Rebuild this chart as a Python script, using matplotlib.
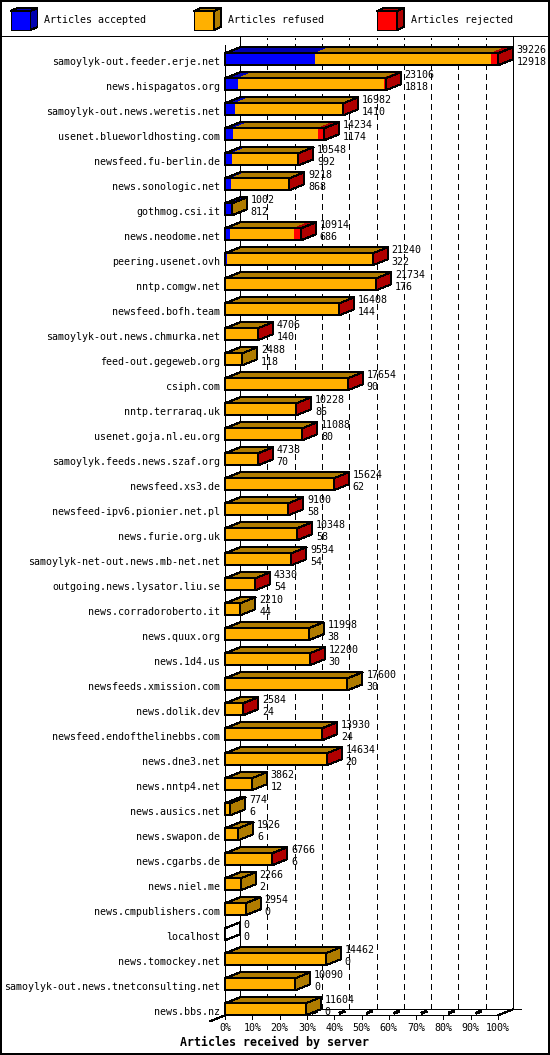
import numpy as np
import matplotlib.pyplot as plt
from matplotlib.patches import Polygon, Rectangle
import matplotlib.transforms as mtransforms

plt.rcParams['lines.scale_dashes'] = False
plt.rcParams['lines.antialiased'] = False
plt.rcParams['patch.antialiased'] = False

# данные: сервер, всего предложено, принято, отклонено (rejected)
servers = [
    "samoylyk-out.feeder.erje.net", "news.hispagatos.org",
    "samoylyk-out.news.weretis.net", "usenet.blueworldhosting.com",
    "newsfeed.fu-berlin.de", "news.sonologic.net", "gothmog.csi.it",
    "news.neodome.net", "peering.usenet.ovh", "nntp.comgw.net",
    "newsfeed.bofh.team", "samoylyk-out.news.chmurka.net",
    "feed-out.gegeweb.org", "csiph.com", "nntp.terraraq.uk",
    "usenet.goja.nl.eu.org", "samoylyk.feeds.news.szaf.org",
    "newsfeed.xs3.de", "newsfeed-ipv6.pionier.net.pl", "news.furie.org.uk",
    "samoylyk-net-out.news.mb-net.net", "outgoing.news.lysator.liu.se",
    "news.corradoroberto.it", "news.quux.org", "news.1d4.us",
    "newsfeeds.xmission.com", "news.dolik.dev",
    "newsfeed.endofthelinebbs.com", "news.dne3.net", "news.nntp4.net",
    "news.ausics.net", "news.swapon.de", "news.cgarbs.de", "news.niel.me",
    "news.cmpublishers.com", "localhost", "news.tomockey.net",
    "samoylyk-out.news.tnetconsulting.net", "news.bbs.nz",
]
offered = np.array([
    39226, 23106, 16982, 14234, 10548, 9218, 1002, 10914, 21240, 21734,
    16408, 4706, 2488, 17654, 10228, 11088, 4738, 15624, 9100, 10348,
    9534, 4330, 2210, 11998, 12200, 17600, 2584, 13930, 14634, 3862,
    774, 1926, 6766, 2266, 2954, 0, 14462, 10090, 11604,
])
accepted = np.array([
    12918, 1818, 1410, 1174, 992, 868, 812, 686, 322, 176,
    144, 140, 118, 90, 86, 80, 70, 62, 58, 58,
    54, 54, 44, 38, 30, 30, 24, 24, 20, 12,
    6, 6, 6, 2, 0, 0, 0, 0, 0,
])
rejected = np.array([
    1050, 320, 40, 880, 30, 30, 0, 1040, 40, 40,
    40, 40, 0, 40, 40, 40, 30, 40, 30, 30,
    30, 30, 0, 0, 30, 0, 30, 30, 30, 0,
    0, 0, 30, 0, 0, 0, 0, 0, 0,
])
refused = offered - accepted - rejected

series_names = ["Articles accepted", "Articles refused", "Articles rejected"]
face_colors = ["#0000ff", "#ffb000", "#ff0000"]
shade_colors = ["#0000b0", "#b07c00", "#b00000"]
pct_ticks = np.arange(0, 101, 10)

W, H = 550, 1055
fig = plt.figure(figsize=(W / 100, H / 100), dpi=100)
ax = fig.add_axes([0, 0, 1, 1])
ax.axis("off")

# положение области графика в пикселях
X0, X100 = 225, 498
Y_FIRST, ROW_H = 59.3, 25.0
ax.set_xlim(-X0 / (X100 - X0) * 100, (W - X0) / (X100 - X0) * 100)
ax.set_ylim((H - Y_FIRST) / ROW_H, -Y_FIRST / ROW_H)

# "глубина" псевдо-3D
DX = 15 / (X100 - X0) * 100
DY = -6 / ROW_H
BAR_H = 12 / ROW_H

# пиксельные координаты (начало сверху слева) для рамки и легенды
pix = mtransforms.Affine2D().scale(1 / W, -1 / H).translate(0, 1) + fig.transFigure

mono = "DejaVu Sans Mono"
fs = 7.2
LW = 0.72  # 1 px

n = len(servers)
floor_front = n - 1 + BAR_H / 2
floor_back = floor_front + DY
y_top = (38 - Y_FIRST) / ROW_H

# сетка и стенки
for p in pct_ticks[1:-1]:
    ax.plot([p + DX, p + DX], [floor_back, y_top], color="black", lw=LW,
            linestyle=(0, (4.3, 2.9)), zorder=1)
ax.plot([DX, DX], [floor_back, (36 - Y_FIRST) / ROW_H], color="black", lw=LW, zorder=1)
ax.plot([100 + DX, 100 + DX], [floor_back, (36 - Y_FIRST) / ROW_H], color="black", lw=LW, zorder=1)
ax.plot([0, 0], [floor_front, (45 - Y_FIRST) / ROW_H], color="black", lw=LW, zorder=1)

# пол
ax.plot([0, 100], [floor_front, floor_front], color="black", lw=LW, zorder=1)
ax.plot([DX, 100 + DX + 3], [floor_back, floor_back], color="black", lw=LW, zorder=1)
ax.plot([100, 100 + DX], [floor_front, floor_back], color="black", lw=LW, zorder=1)
ax.plot([0, -DX], [floor_front, floor_front - DY], color="black", lw=LW, zorder=1)
for p in pct_ticks:
    ax.plot([p, p], [floor_front, floor_front + 4 / ROW_H], color="black", lw=LW, zorder=1)
    if 0 < p < 100:
        ax.plot([p + DX * 0.4, p + DX * 0.65], [floor_front + DY * 0.4, floor_front + DY * 0.65],
                color="black", lw=1.44, zorder=1)
    ax.text(p, (1028 - Y_FIRST) / ROW_H, f"{p}%", family=mono, fontsize=fs,
            ha="center", va="center")

# бары
scale = 100.0 / offered.max()
parts = np.vstack([accepted, refused, rejected]) * scale
for i in range(n):
    top = i - BAR_H / 2
    bot = i + BAR_H / 2
    x = 0.0
    last = None
    for j in range(3):
        w = parts[j, i]
        if w <= 0:
            continue
        ax.add_patch(Rectangle((x, top), w, BAR_H, facecolor=face_colors[j],
                               edgecolor="none", zorder=2))
        ax.add_patch(Polygon([(x, top), (x + w, top), (x + w + DX, top + DY), (x + DX, top + DY)],
                             closed=True, facecolor=shade_colors[j], edgecolor="none", zorder=2))
        x += w
        last = j
    xe = x
    if last is not None:
        ax.add_patch(Polygon([(xe, top), (xe + DX, top + DY), (xe + DX, bot + DY), (xe, bot)],
                             closed=True, facecolor=shade_colors[last], edgecolor="none", zorder=2))
    ox = [0, 0, DX, xe + DX, xe + DX, xe, 0, np.nan, 0, xe, xe + DX, np.nan, xe, xe]
    oy = [bot, top, top + DY, top + DY, bot + DY, bot, bot, np.nan, top, top, top + DY,
          np.nan, top, bot]
    ax.plot(ox, oy, color="black", lw=LW, zorder=3)

    ax.text(-1.8, i + 0.1, servers[i], family=mono, fontsize=fs, ha="right", va="center")
    ax.text(xe + DX + 1.4, i - 0.36, str(offered[i]), family=mono, fontsize=fs,
            ha="left", va="center", zorder=4)
    ax.text(xe + DX + 1.4, i + 0.1, str(accepted[i]), family=mono, fontsize=fs,
            ha="left", va="center", zorder=4)

fig.text(0.5, 1 - 1042 / H, "Articles received by server", family=mono,
         fontsize=8.4, fontweight="bold", ha="center", va="center")

# легенда
legend_x = [10.5, 194, 377]
for k in range(3):
    lx = legend_x[k]
    fx0, fx1, fy0, fy1 = lx, lx + 20, 11, 30
    ddx, ddy = 7, -3
    fig.patches.append(Rectangle((fx0, fy0), fx1 - fx0, fy1 - fy0, transform=pix,
                                 facecolor=face_colors[k], edgecolor="black", lw=LW))
    fig.patches.append(Polygon([(fx0, fy0), (fx1, fy0), (fx1 + ddx, fy0 + ddy), (fx0 + ddx, fy0 + ddy)],
                               closed=True, transform=pix, facecolor=shade_colors[k],
                               edgecolor="black", lw=LW))
    fig.patches.append(Polygon([(fx1, fy0), (fx1 + ddx, fy0 + ddy), (fx1 + ddx, fy1 + ddy), (fx1, fy1)],
                               closed=True, transform=pix, facecolor=shade_colors[k],
                               edgecolor="black", lw=LW))
    fig.text((lx + 34) / W, 1 - 20 / H, series_names[k], family=mono, fontsize=fs,
             ha="left", va="center")

# рамки
fig.patches.append(Rectangle((1, 1), W - 2, H - 2, transform=pix, fill=False,
                             edgecolor="black", lw=1.44))
fig.lines.append(plt.Line2D([0, W], [36, 36], transform=pix, color="black", lw=LW))

fig.savefig("out.png", dpi=100)
